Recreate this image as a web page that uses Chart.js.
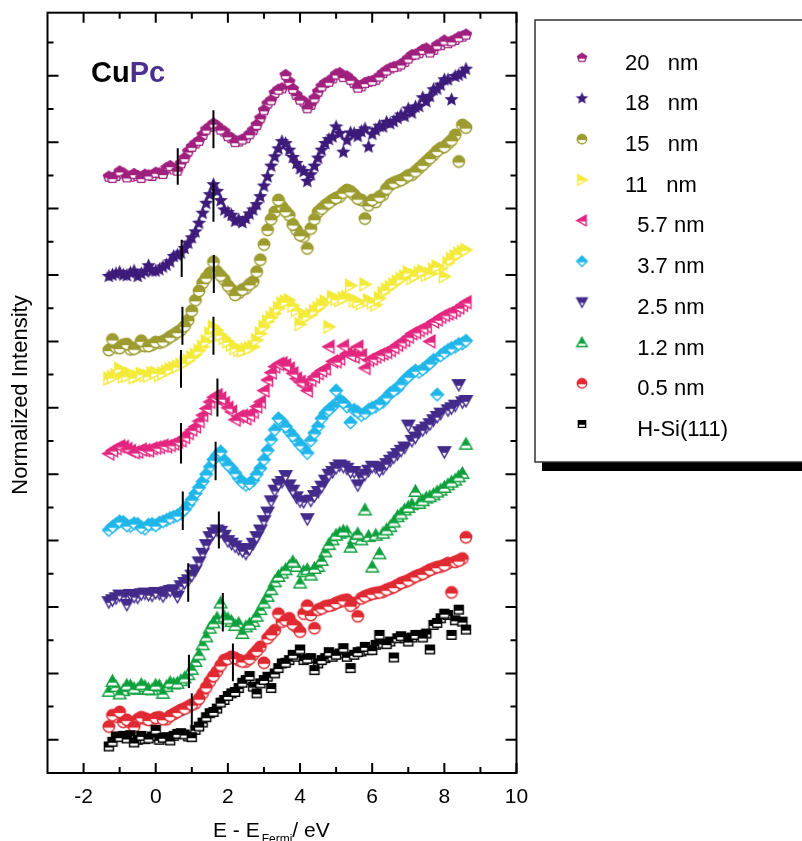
<!DOCTYPE html>
<html>
<head>
<meta charset="utf-8">
<title>CuPc</title>
<script src="https://cdn.jsdelivr.net/npm/chart.js@4.4.1/dist/chart.umd.min.js"></script>
<style>
  html, body { margin: 0; padding: 0; background: #fff; }
  canvas { display: block; }
</style>
</head>
<body>
<canvas id="cupcChart" width="802" height="841"></canvas>
<script>
// エネルギー軸 (E - E_Fermi / eV) : 読み取り点 2 系列
const energy = [-1.3, -1.1, -0.9, -0.7, -0.5, -0.3, -0.1, 0.1, 0.3, 0.5,
  0.7, 0.9, 1.1, 1.3, 1.5, 1.7, 1.9, 2.1, 2.3, 2.5,
  2.7, 2.9, 3.1, 3.3, 3.5, 3.7, 3.9, 4.1, 4.3, 4.5,
  4.7, 4.9, 5.1, 5.3, 5.5, 5.7, 5.9, 6.1, 6.3, 6.5,
  6.7, 6.9, 7.1, 7.3, 7.5, 7.7, 7.9, 8.1, 8.3, 8.5];
const energyMid = [-1.2, -1.0, -0.8, -0.6, -0.4, -0.2, 0.0, 0.2, 0.4, 0.6,
  0.8, 1.0, 1.2, 1.4, 1.6, 1.8, 2.0, 2.2, 2.4, 2.6,
  2.8, 3.0, 3.2, 3.4, 3.6, 3.8, 4.0, 4.2, 4.4, 4.6,
  4.8, 5.0, 5.2, 5.4, 5.6, 5.8, 6.0, 6.2, 6.4, 6.6,
  6.8, 7.0, 7.2, 7.4, 7.6, 7.8, 8.0, 8.2, 8.4, 8.6];

// 各膜厚のスペクトル (縦にずらした規格化強度)
const int20nm = [89.8, 89.9, 90.3, 89.8, 89.9, 90.1, 89.9, 90.3, 91.1, 90.9,
  91.8, 93.6, 94.8, 96.1, 97.3, 97.4, 96.6, 95.6, 95.1, 95.6,
  96.8, 98.6, 100.8, 102.4, 103.1, 104.1, 102.1, 101.1, 100.6, 102.6,
  103.9, 104.6, 105.4, 104.9, 103.9, 103.4, 104.1, 104.4, 105.4, 106.1,
  106.4, 107.1, 108.1, 108.4, 109.1, 108.9, 109.6, 109.9, 110.4, 110.9];
const int20nmMid = [89.6, 90.6, 89.7, 90.2, 89.6, 90.0, 90.4, 90.2, 91.4, 90.7,
  92.6, 94.3, 95.2, 96.9, 97.8, 96.9, 95.9, 95.0, 95.4, 96.2,
  97.6, 99.8, 101.3, 102.9, 105.1, 103.0, 101.4, 100.1, 101.6, 103.4,
  104.1, 105.2, 104.8, 104.4, 103.2, 103.9, 104.2, 104.9, 105.8, 106.3,
  106.7, 107.6, 108.2, 108.9, 108.5, 109.6, 110.3, 110.2, 110.8, 111.2];
const int18nm = [74.8, 75.2, 75.0, 75.3, 74.8, 75.5, 75.6, 75.8, 76.5, 77.8,
  78.3, 79.8, 81.5, 84.3, 87.1, 87.6, 84.8, 84.0, 83.3, 83.5,
  84.8, 86.8, 89.8, 92.8, 95.1, 93.8, 91.8, 90.6, 90.1, 92.6,
  94.8, 95.8, 96.3, 95.3, 96.3, 96.6, 94.3, 96.8, 97.3, 97.8,
  98.6, 98.9, 99.4, 100.4, 101.1, 102.9, 103.6, 104.4, 104.9, 105.4];
const int18nmMid = [75.0, 75.4, 74.9, 75.6, 75.2, 76.4, 75.6, 76.2, 77.0, 78.0,
  79.0, 80.6, 82.8, 85.8, 88.6, 86.2, 84.4, 83.1, 82.9, 84.2,
  85.6, 88.4, 91.4, 94.0, 94.8, 92.7, 91.0, 89.1, 91.4, 93.8,
  95.4, 97.3, 93.5, 96.4, 95.9, 97.0, 96.2, 97.4, 98.0, 98.1,
  99.1, 100.0, 100.3, 101.7, 101.9, 103.0, 104.4, 101.4, 105.1, 106.0];
const int15nm = [63.7, 64.1, 64.5, 63.8, 64.2, 64.3, 64.5, 64.8, 65.3, 66.0,
  66.7, 68.2, 71.2, 73.8, 75.3, 75.5, 74.3, 72.8, 72.3, 73.0,
  74.0, 77.3, 81.8, 84.5, 85.3, 84.0, 81.8, 80.8, 82.0, 84.5,
  85.5, 86.3, 86.8, 87.8, 87.1, 86.3, 85.5, 86.0, 87.1, 88.6,
  89.1, 89.6, 90.1, 91.1, 92.1, 93.1, 94.1, 94.8, 96.1, 97.6];
const int15nmMid = [65.3, 64.0, 64.6, 63.9, 65.1, 64.3, 64.9, 65.0, 65.7, 66.4,
  67.3, 69.6, 72.6, 74.6, 77.0, 74.9, 73.4, 72.0, 72.8, 73.6,
  75.5, 79.6, 83.4, 86.3, 84.6, 82.6, 81.0, 79.0, 83.4, 85.0,
  85.9, 86.6, 87.4, 87.6, 86.5, 83.5, 86.3, 86.8, 88.0, 88.9,
  89.3, 90.0, 90.6, 91.6, 92.6, 93.7, 94.3, 95.3, 92.1, 97.2];
const int11nm = [59.4, 59.9, 59.7, 60.1, 59.7, 59.9, 60.2, 59.9, 60.5, 61.0,
  61.5, 62.1, 63.0, 64.2, 66.2, 66.7, 65.5, 64.5, 63.7, 63.8,
  64.2, 66.2, 68.0, 69.2, 70.7, 71.2, 69.7, 68.5, 69.0, 70.0,
  71.0, 71.7, 71.2, 71.7, 71.2, 70.7, 71.2, 70.5, 72.3, 73.2,
  74.0, 74.8, 74.5, 75.3, 75.0, 75.8, 76.0, 76.8, 77.8, 78.5];
const int11nmMid = [59.6, 60.9, 59.8, 59.6, 60.1, 59.8, 60.3, 60.2, 60.8, 61.2,
  61.8, 62.6, 63.6, 65.0, 67.2, 66.0, 65.0, 64.0, 63.6, 64.0,
  65.2, 67.2, 68.6, 70.0, 71.0, 70.4, 67.6, 68.8, 69.6, 70.5,
  67.2, 71.4, 71.5, 73.4, 71.0, 73.6, 70.9, 71.5, 72.8, 73.6,
  74.4, 75.4, 74.9, 75.6, 75.2, 76.3, 74.8, 77.4, 78.2, 78.8];
const int5_7nm = [48.1, 48.9, 49.1, 48.5, 48.4, 48.6, 48.9, 49.1, 49.2, 49.6,
  50.1, 51.2, 52.2, 53.9, 55.9, 56.9, 55.7, 54.4, 53.7, 53.4,
  54.4, 55.9, 59.2, 61.2, 61.7, 60.9, 59.4, 58.4, 59.2, 60.2,
  60.9, 62.0, 62.4, 63.2, 62.7, 62.9, 62.2, 62.7, 63.2, 63.7,
  64.5, 65.2, 66.2, 66.7, 67.2, 68.0, 68.7, 69.2, 69.7, 70.5];
const int5_7nmMid = [48.6, 49.2, 48.8, 48.3, 48.7, 48.6, 49.0, 49.3, 49.4, 49.9,
  50.6, 51.7, 53.0, 54.9, 56.6, 56.4, 55.0, 53.2, 53.8, 53.9,
  55.2, 57.6, 60.3, 61.6, 61.4, 60.2, 58.9, 57.6, 59.7, 60.6,
  64.2, 62.0, 64.3, 62.9, 64.2, 61.0, 62.4, 63.0, 63.4, 64.1,
  64.9, 65.7, 66.4, 67.0, 65.0, 68.3, 69.0, 69.4, 70.1, 70.9];
const int3_7nm = [36.6, 37.5, 37.8, 37.2, 37.5, 36.8, 37.5, 37.7, 38.1, 38.6,
  39.1, 40.4, 42.1, 43.9, 46.1, 47.9, 47.1, 45.9, 44.4, 43.4,
  44.1, 45.9, 48.6, 51.7, 52.9, 51.4, 50.1, 48.9, 50.1, 52.2,
  54.2, 55.2, 56.2, 55.2, 54.7, 53.9, 54.7, 55.2, 55.9, 57.2,
  57.9, 59.2, 60.2, 60.4, 61.2, 62.2, 62.9, 63.7, 64.2, 64.7];
const int3_7nmMid = [37.1, 37.9, 37.3, 37.6, 37.0, 37.4, 37.3, 37.9, 38.4, 38.8,
  39.7, 41.2, 43.0, 45.0, 47.2, 48.4, 46.4, 45.2, 43.8, 43.6,
  45.0, 47.2, 50.2, 53.4, 52.2, 50.8, 49.4, 48.2, 51.2, 53.4,
  54.7, 57.6, 55.8, 52.8, 54.4, 54.2, 55.0, 55.6, 56.6, 57.6,
  58.6, 59.7, 60.6, 60.8, 61.7, 57.0, 63.3, 64.0, 64.6, 65.1];
const int2_5nm = [25.8, 26.4, 26.6, 26.9, 26.5, 27.1, 26.8, 27.1, 27.3, 27.6,
  28.2, 29.1, 30.6, 33.1, 35.6, 36.6, 35.8, 34.6, 33.8, 33.1,
  34.6, 36.6, 39.3, 42.6, 43.9, 43.4, 41.6, 40.9, 41.1, 42.4,
  44.1, 45.4, 46.4, 45.9, 45.4, 44.6, 45.6, 46.1, 45.9, 47.1,
  48.1, 49.1, 50.1, 51.4, 52.1, 53.2, 54.2, 54.7, 55.4, 55.9];
const int2_5nmMid = [26.1, 26.8, 25.4, 26.6, 27.0, 26.9, 27.2, 26.7, 27.5, 26.6,
  28.7, 29.8, 31.8, 34.4, 36.2, 36.4, 35.0, 34.2, 33.5, 33.8,
  35.6, 38.0, 41.0, 43.5, 44.8, 42.6, 41.0, 38.3, 41.8, 43.2,
  45.0, 46.0, 46.2, 45.4, 43.4, 45.0, 46.2, 45.6, 46.6, 47.6,
  48.6, 52.4, 50.6, 51.7, 52.6, 53.7, 48.4, 55.0, 58.5, 56.1];
const int1_2nm = [12.3, 13.0, 12.4, 13.1, 12.6, 13.0, 12.5, 13.1, 13.0, 13.4,
  13.9, 14.8, 16.8, 19.3, 21.8, 23.3, 23.5, 22.8, 22.5, 22.0,
  22.8, 24.6, 26.6, 28.8, 30.1, 31.1, 31.1, 30.3, 29.8, 31.1,
  33.3, 35.1, 36.1, 36.3, 35.3, 35.1, 35.6, 35.8, 36.1, 37.1,
  38.6, 39.6, 40.4, 40.6, 41.4, 41.9, 42.6, 43.4, 44.1, 45.1];
const int1_2nmMid = [13.8, 11.9, 13.2, 12.7, 13.3, 12.6, 13.2, 12.0, 13.6, 13.5,
  14.3, 15.6, 17.8, 20.5, 22.6, 25.6, 23.2, 22.2, 21.0, 22.4,
  23.6, 25.6, 27.6, 29.6, 30.6, 31.8, 28.6, 30.6, 30.8, 32.0,
  34.4, 35.8, 36.4, 34.0, 36.0, 39.6, 31.0, 33.0, 36.6, 37.8,
  39.0, 40.0, 42.4, 41.0, 41.6, 42.3, 43.0, 43.8, 44.6, 49.5];
const int0_5nm = [7.0, 8.5, 7.7, 7.6, 8.1, 8.2, 8.0, 8.4, 8.1, 8.9,
  9.5, 10.0, 10.5, 12.0, 13.8, 15.3, 17.0, 17.5, 17.0, 16.8,
  17.8, 19.0, 20.3, 21.5, 22.8, 23.3, 22.0, 24.0, 23.8, 24.6,
  25.1, 25.3, 25.8, 26.1, 25.6, 26.3, 26.8, 27.1, 27.3, 27.8,
  28.3, 28.8, 29.3, 29.8, 30.3, 30.8, 31.1, 31.6, 31.8, 32.3];
const int0_5nmMid = [8.7, 9.2, 8.0, 7.0, 8.4, 8.0, 8.3, 8.1, 8.6, 9.2,
  9.7, 10.3, 11.2, 12.9, 14.6, 16.2, 17.2, 17.3, 16.8, 17.2,
  18.4, 16.6, 20.9, 24.0, 23.0, 22.4, 21.3, 25.2, 21.8, 24.8,
  25.2, 25.6, 26.0, 25.2, 23.6, 26.6, 27.0, 27.2, 27.6, 28.0,
  28.6, 29.0, 29.6, 30.0, 30.6, 31.0, 31.3, 27.2, 32.0, 35.5];
const intHSi = [4.0, 5.5, 5.6, 5.7, 5.0, 5.1, 5.5, 5.0, 5.4, 5.6,
  6.0, 5.5, 6.5, 7.6, 9.0, 9.7, 11.0, 12.0, 12.8, 14.0,
  13.0, 13.5, 14.5, 15.0, 16.5, 17.0, 17.5, 17.0, 17.3, 16.5,
  17.3, 17.5, 18.0, 17.5, 17.8, 18.3, 18.5, 19.3, 19.5, 19.8,
  20.3, 20.3, 20.4, 20.8, 21.0, 22.3, 23.3, 23.8, 23.0, 22.8];
const intHSiMid = [4.7, 5.4, 5.2, 4.6, 5.6, 5.2, 6.5, 5.3, 4.9, 5.9,
  5.8, 5.4, 7.0, 8.4, 9.2, 10.6, 11.6, 12.2, 13.6, 14.6,
  12.0, 14.0, 12.8, 15.8, 16.6, 17.8, 18.6, 17.2, 15.5, 17.0,
  18.2, 17.8, 18.8, 15.8, 18.2, 19.0, 18.5, 20.8, 19.4, 17.4,
  20.6, 19.8, 20.8, 20.4, 18.6, 22.6, 24.0, 20.8, 24.6, 21.6];

// 縦線マーカー [E, 下端, 上端] : 立ち上がりと第一ピーク
const marks20nm = [[0.61, 88.6, 94.1], [1.60, 94.1, 99.8]];
const marks18nm = [[0.72, 74.7, 80.3], [1.60, 83.0, 88.9]];
const marks15nm = [[0.74, 64.5, 70.2], [1.61, 72.3, 78.0]];
const marks11nm = [[0.70, 58.0, 63.7], [1.60, 63.0, 68.7]];
const marks5_7nm = [[0.70, 46.6, 52.7], [1.71, 53.7, 59.4]];
const marks3_7nm = [[0.75, 36.6, 42.4], [1.66, 44.1, 49.9]];
const marks2_5nm = [[0.90, 25.8, 31.6], [1.75, 33.8, 39.4]];
const marks1_2nm = [[0.92, 12.8, 17.8], [1.86, 21.3, 27.1]];
const marks0_5nm = [[1.00, 6.7, 12.0], [2.14, 13.8, 19.5]];

const seriesLabels = ['20   nm', '18   nm', '15   nm', '11   nm', '  5.7 nm',
  '  3.7 nm', '  2.5 nm', '  1.2 nm', '  0.5 nm', '  H-Si(111)'];
const seriesValues = [int20nm, int18nm, int15nm, int11nm, int5_7nm,
  int3_7nm, int2_5nm, int1_2nm, int0_5nm, intHSi];
const seriesValuesMid = [int20nmMid, int18nmMid, int15nmMid, int11nmMid, int5_7nmMid,
  int3_7nmMid, int2_5nmMid, int1_2nmMid, int0_5nmMid, intHSiMid];
const seriesMarks = [marks20nm, marks18nm, marks15nm, marks11nm, marks5_7nm,
  marks3_7nm, marks2_5nm, marks1_2nm, marks0_5nm, []];

// 軸目盛
const xTickLabels = [-2, 0, 2, 4, 6, 8, 10];
const xMinorTicks = [-1, 1, 3, 5, 7, 9];
const yMajorTicks = [5, 15, 25, 35, 45, 55, 65, 75, 85, 95, 105];
const yMinorTicks = [10, 20, 30, 40, 50, 60, 70, 80, 90, 100, 110];

// 見た目
const seriesColors = ['#a0207e', '#3d1b7a', '#9c9c30', '#f3ea3a', '#e2267f',
  '#20b6ea', '#432a8b', '#0ea03d', '#e02a33', '#000000'];
const seriesShapes = ['pentagon', 'star', 'circle', 'right', 'left',
  'diamond', 'down', 'up', 'circle', 'rect'];
const FONT = '"Liberation Sans", Arial, Helvetica, sans-serif';

// 上側塗り・下側白抜きのマーカーを作る
function makeMarker(shape, color, size) {
  const s = Math.ceil(size + 4);
  const cv = document.createElement('canvas');
  cv.width = s; cv.height = s;
  const g = cv.getContext('2d');
  const c = s / 2, r = size / 2;
  g.beginPath();
  if (shape === 'circle') {
    g.arc(c, c, r, 0, Math.PI * 2);
  } else if (shape === 'rect') {
    g.rect(c - r * 0.9, c - r * 0.85, r * 1.8, r * 1.7);
  } else if (shape === 'diamond') {
    g.moveTo(c, c - r); g.lineTo(c + r, c); g.lineTo(c, c + r); g.lineTo(c - r, c);
  } else if (shape === 'up') {
    g.moveTo(c, c - r); g.lineTo(c + r, c + r * 0.75); g.lineTo(c - r, c + r * 0.75);
  } else if (shape === 'down') {
    g.moveTo(c - r, c - r * 0.75); g.lineTo(c + r, c - r * 0.75); g.lineTo(c, c + r);
  } else if (shape === 'left') {
    g.moveTo(c - r, c); g.lineTo(c + r * 0.8, c - r); g.lineTo(c + r * 0.8, c + r);
  } else if (shape === 'right') {
    g.moveTo(c + r, c); g.lineTo(c - r * 0.8, c - r); g.lineTo(c - r * 0.8, c + r);
  } else if (shape === 'pentagon') {
    for (let k = 0; k < 5; k++) {
      const a = -Math.PI / 2 + k * 2 * Math.PI / 5;
      g.lineTo(c + r * Math.cos(a), c + r * 0.95 * Math.sin(a));
    }
  } else if (shape === 'star') {
    for (let k = 0; k < 10; k++) {
      const a = -Math.PI / 2 + k * Math.PI / 5;
      const rr = k % 2 ? r * 0.45 : r;
      g.lineTo(c + rr * Math.cos(a), c + rr * Math.sin(a));
    }
  }
  g.closePath();
  if (shape === 'star') {
    g.fillStyle = color; g.fill();
    return cv;
  }
  g.fillStyle = '#fff'; g.fill();
  g.save();
  g.clip();
  g.fillStyle = color;
  g.fillRect(0, 0, s, c + r * 0.2);
  g.restore();
  g.lineWidth = 1.4; g.strokeStyle = color; g.stroke();
  return cv;
}

function markerSize(shape) {
  if (shape === 'star') return 15;
  if (shape === 'rect') return 10;
  if (shape === 'circle' || shape === 'pentagon') return 11.5;
  return 12.5;
}

const plotMarkers = seriesShapes.map((sh, i) => makeMarker(sh, seriesColors[i], markerSize(sh)));
const legendMarkers = seriesShapes.map((sh, i) => makeMarker(sh, seriesColors[i], markerSize(sh) - 2));

// データセット
const datasets = [];
seriesValues.forEach((vals, i) => {
  const pts = energy.map((e, k) => ({ x: e, y: vals[k] }))
    .concat(energyMid.map((e, k) => ({ x: e, y: seriesValuesMid[i][k] })));
  datasets.push({
    label: seriesLabels[i],
    data: pts,
    pointStyle: plotMarkers[i],
    pointRadius: 6,
    showLine: false,
    order: 20 - i
  });
  seriesMarks[i].forEach(m => {
    datasets.push({
      type: 'line',
      label: '',
      data: [{ x: m[0], y: m[1] }, { x: m[0], y: m[2] }],
      borderColor: '#000',
      borderWidth: 2,
      pointRadius: 0,
      showLine: true,
      order: 0
    });
  });
});

// 枠・目盛・文字・凡例を描くプラグイン
const framePlugin = {
  id: 'framePlugin',
  afterDraw(chart) {
    const { ctx, chartArea: a, scales: { x, y } } = chart;
    ctx.save();

    // 枠
    ctx.strokeStyle = '#000';
    ctx.lineWidth = 2;
    ctx.strokeRect(a.left, a.top, a.right - a.left, a.bottom - a.top);

    // 内向きの目盛
    const tickX = (v, len) => {
      const px = x.getPixelForValue(v);
      ctx.beginPath();
      ctx.moveTo(px, a.bottom); ctx.lineTo(px, a.bottom - len);
      ctx.moveTo(px, a.top); ctx.lineTo(px, a.top + len);
      ctx.stroke();
    };
    const tickY = (v, len) => {
      const py = y.getPixelForValue(v);
      ctx.beginPath();
      ctx.moveTo(a.left, py); ctx.lineTo(a.left + len, py);
      ctx.moveTo(a.right, py); ctx.lineTo(a.right - len, py);
      ctx.stroke();
    };
    xTickLabels.forEach(v => tickX(v, 10));
    xMinorTicks.forEach(v => tickX(v, 6));
    yMajorTicks.forEach(v => tickY(v, 11));
    yMinorTicks.forEach(v => tickY(v, 6));

    // x 目盛ラベル
    ctx.fillStyle = '#000';
    ctx.font = '21px ' + FONT;
    ctx.textAlign = 'center';
    ctx.textBaseline = 'alphabetic';
    xTickLabels.forEach(v => ctx.fillText(String(v), x.getPixelForValue(v), a.bottom + 30));

    // x 軸タイトル (下付き Fermi)
    ctx.textAlign = 'left';
    let tx = 213;
    const base = a.bottom + 64;
    ctx.font = '21px ' + FONT;
    ctx.fillText('E - E', tx, base);
    tx += ctx.measureText('E - E').width + 2;
    ctx.font = '12px ' + FONT;
    ctx.fillText('Fermi', tx, base + 6);
    tx += ctx.measureText('Fermi').width;
    ctx.font = '21px ' + FONT;
    ctx.fillText('/ eV', tx, base);

    // y 軸タイトル
    ctx.save();
    ctx.translate(27, 395);
    ctx.rotate(-Math.PI / 2);
    ctx.textAlign = 'center';
    ctx.font = '22px ' + FONT;
    ctx.fillText('Normalized Intensity', 0, 0);
    ctx.restore();

    // CuPc
    ctx.font = 'bold 29px ' + FONT;
    ctx.textAlign = 'left';
    ctx.fillStyle = '#000';
    ctx.fillText('Cu', 91, 82);
    const cuW = ctx.measureText('Cu').width;
    ctx.fillStyle = '#4b2f8e';
    ctx.fillText('Pc', 91 + cuW, 82);

    // 凡例ボックス (影つき)
    const boxL = 535, boxT = 20, boxB = 462;
    ctx.fillStyle = '#000';
    ctx.fillRect(boxL + 7, boxB, chart.width, 9);
    ctx.fillStyle = '#fff';
    ctx.fillRect(boxL, boxT, chart.width, boxB - boxT);
    ctx.strokeStyle = '#333';
    ctx.lineWidth = 1.5;
    ctx.strokeRect(boxL, boxT, chart.width, boxB - boxT);

    ctx.font = '22px ' + FONT;
    ctx.fillStyle = '#000';
    seriesLabels.forEach((lab, i) => {
      const rowY = 61.7 + i * 40.7;
      const mk = legendMarkers[i];
      ctx.drawImage(mk, 582 - mk.width / 2, rowY - 4 - mk.height / 2);
      ctx.fillText(lab, 625, rowY + 7.9);
    });

    ctx.restore();
  }
};

const chartConfig = {
  type: 'scatter',
  data: { datasets: datasets },
  options: {
    responsive: false,
    animation: false,
    events: [],
    layout: { padding: { left: 47.5, right: 285.5, top: 12.7, bottom: 68 } },
    scales: {
      x: { type: 'linear', min: -3, max: 10, display: false },
      y: { type: 'linear', min: 0, max: 114.5, display: false }
    },
    plugins: {
      legend: { display: false },
      tooltip: { enabled: false }
    }
  },
  plugins: [framePlugin]
};

const cupcChart = new Chart(document.getElementById('cupcChart'), chartConfig);
</script>
</body>
</html>
